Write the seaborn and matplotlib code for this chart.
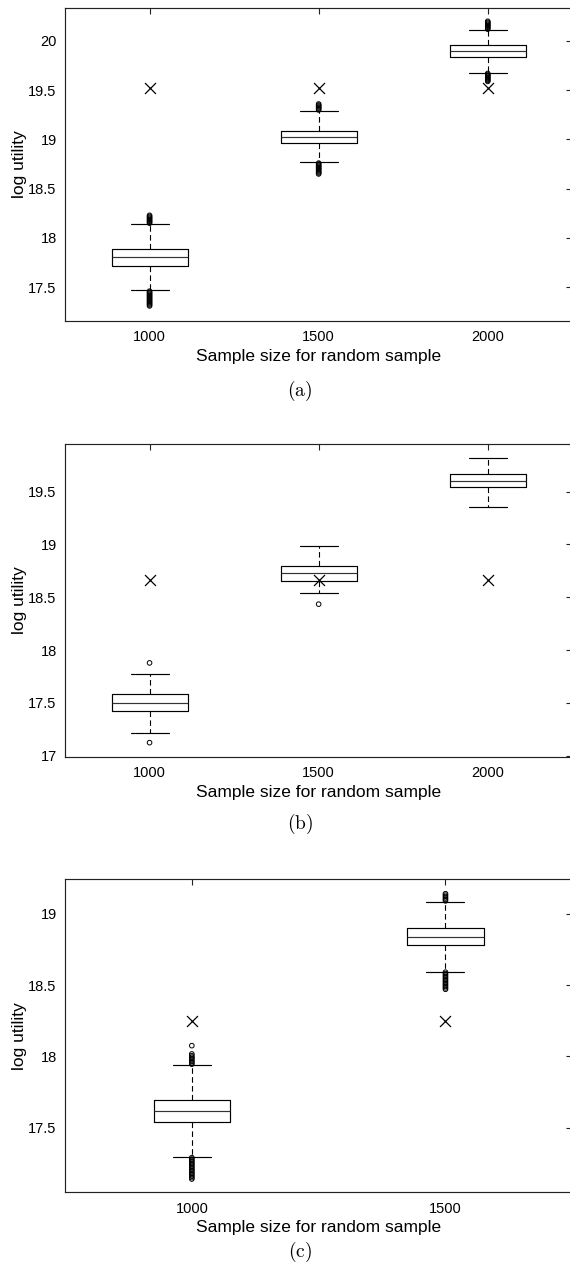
import numpy as np
import pandas as pd
import matplotlib
matplotlib.use("Agg")
import matplotlib.pyplot as plt
import seaborn as sns

# ---------------- data ----------------
# five-number box summaries: lower whisker, q1, median, q3, upper whisker
sizes_ab = [1000, 1500, 2000]
sizes_c = [1000, 1500]

box_a = {
    1000: [17.47, 17.72, 17.81, 17.89, 18.14],
    1500: [18.77, 18.96, 19.03, 19.09, 19.29],
    2000: [19.675, 19.835, 19.897, 19.955, 20.115],
}
box_b = {
    1000: [17.215, 17.42, 17.502, 17.581, 17.777],
    1500: [18.538, 18.651, 18.727, 18.794, 18.989],
    2000: [19.352, 19.542, 19.604, 19.668, 19.816],
}
box_c = {
    1000: [17.297, 17.538, 17.617, 17.694, 17.938],
    1500: [18.594, 18.779, 18.840, 18.899, 19.084],
}

# outliers (open circles)
out_a = {
    1000: [18.15, 18.16, 18.17, 18.18, 18.19, 18.20, 18.21, 18.22, 18.23,
           17.46, 17.45, 17.44, 17.43, 17.42, 17.41, 17.40, 17.39, 17.38,
           17.37, 17.36, 17.35, 17.34, 17.33, 17.32, 17.31],
    1500: [19.30, 19.31, 19.32, 19.33, 19.34, 19.35, 19.36,
           18.76, 18.75, 18.74, 18.73, 18.72, 18.71, 18.70, 18.69, 18.68,
           18.67, 18.66, 18.65],
    2000: [20.12, 20.13, 20.14, 20.15, 20.16, 20.17, 20.18, 20.19, 20.20,
           19.67, 19.66, 19.65, 19.64, 19.63, 19.62, 19.61, 19.60, 19.59],
}
out_b = {
    1000: [17.878, 17.123],
    1500: [18.434],
    2000: [],
}
out_c = {
    1000: [18.075, 18.017, 18.005, 17.995, 17.985, 17.975, 17.965, 17.955, 17.945,
           17.29, 17.28, 17.27, 17.26, 17.25, 17.24, 17.23, 17.22, 17.21, 17.20,
           17.19, 17.18, 17.17, 17.16, 17.15, 17.14],
    1500: [19.09, 19.10, 19.11, 19.12, 19.13, 19.14,
           18.59, 18.58, 18.57, 18.56, 18.55, 18.54, 18.53, 18.52, 18.51,
           18.50, 18.49, 18.48, 18.47],
}

# reference utility (cross markers)
ref_a = 19.52
ref_b = 18.66
ref_c = 18.245

yticks_a = [17.5, 18, 18.5, 19, 19.5, 20]
yticks_b = [17, 17.5, 18, 18.5, 19, 19.5]
yticks_c = [17.5, 18, 18.5, 19]

ylim_a = (17.16, 20.335)
ylim_b = (16.99, 19.95)
ylim_c = (17.047, 19.241)

captions = ["(a)", "(b)", "(c)"]
xlabel = "Sample size for random sample"
ylabel = "log utility"

# ---------------- style ----------------
sns.set_theme(style="white")
plt.rcParams["font.family"] = ["Liberation Sans", "DejaVu Sans"]
plt.rcParams["mathtext.fontset"] = "cm"

W, H = 570, 1272
fig = plt.figure(figsize=(W / 100, H / 100), dpi=100)

ax_left = 65 / W
ax_width = (572.3 - 65) / W
panels = [
    (box_a, out_a, ref_a, sizes_ab, yticks_a, ylim_a, 8, 320.7, 0.45, 391),
    (box_b, out_b, ref_b, sizes_ab, yticks_b, ylim_b, 444, 756.7, 0.45, 824),
    (box_c, out_c, ref_c, sizes_c, yticks_c, ylim_c, 879.3, 1192.3, 0.30, 1252),
]

LC = "black"
for i, (boxes, outs, ref, sizes, yticks, ylim, top, bot, bw, capy) in enumerate(panels):
    ax = fig.add_axes([ax_left, 1 - bot / H, ax_width, (bot - top) / H])
    rows = []
    for s in sizes:
        for v in boxes[s]:
            rows.append({"size": s, "val": v})
    df = pd.DataFrame(rows)
    sns.boxplot(data=df, x="size", y="val", native_scale=True, width=bw,
                whis=(0, 100), fill=False, color=LC, linecolor=LC,
                linewidth=0.85, showfliers=False, ax=ax,
                whiskerprops={"linestyle": (0, (5, 3)), "linewidth": 0.8,
                              "color": LC},
                capprops={"linewidth": 0.85, "color": LC},
                boxprops={"color": LC},
                medianprops={"linewidth": 0.85, "color": "#333333"})

    orows = [{"size": s, "val": v} for s in sizes for v in outs[s]]
    if orows:
        odf = pd.DataFrame(orows)
        sns.scatterplot(data=odf, x="size", y="val", marker="o", s=11,
                        facecolor="none", edgecolor=LC, linewidth=0.7,
                        ax=ax, zorder=5, legend=False)
    rdf = pd.DataFrame({"size": sizes, "val": [ref] * len(sizes)})
    sns.scatterplot(data=rdf, x="size", y="val", marker="x", s=62,
                    color=LC, linewidth=0.9, ax=ax, zorder=6, legend=False)

    ax.set_xlim(sizes[0] - 250, sizes[-1] + 250)
    ax.set_ylim(*ylim)
    ax.set_xticks(sizes)
    ax.set_xticklabels([str(s) for s in sizes])
    ax.set_yticks(yticks)
    ax.set_yticklabels([("%g" % t) for t in yticks])
    ax.tick_params(direction="in", top=True, right=True, length=4.5, width=0.8,
                   color="#222222", labelsize=10.5, labelcolor="black")
    ax.tick_params(axis="x", pad=7)
    ax.tick_params(axis="y", pad=6)
    for sp in ax.spines.values():
        sp.set_visible(True)
        sp.set_color("#222222")
        sp.set_linewidth(0.85)
    ax.set_xlabel(xlabel, fontsize=12.5, labelpad=3, color="black")
    ax.set_ylabel(ylabel, fontsize=12.5, labelpad=1, color="black")
    fig.text(300 / W, 1 - capy / H, r"$\mathrm{%s}$" % captions[i],
             ha="center", va="center", fontsize=14, color="black")

fig.savefig("out.png", dpi=100)
